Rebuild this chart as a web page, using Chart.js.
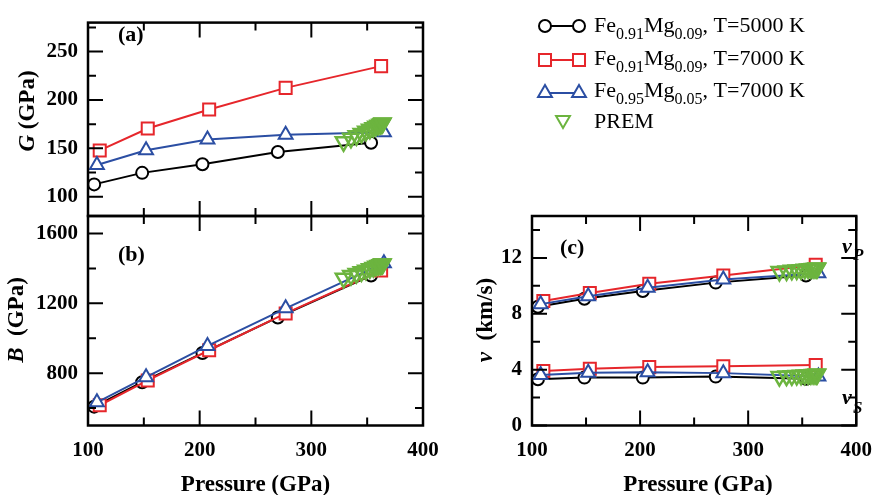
<!DOCTYPE html>
<html><head><meta charset="utf-8">
<script src="https://cdn.jsdelivr.net/npm/chart.js@4.4.0/dist/chart.umd.min.js"></script>
<style>
html,body{margin:0;padding:0;background:#fff;}
#wrap{position:relative;width:884px;height:495px;overflow:hidden;background:#fff;}
#wrap canvas{position:absolute;left:0;top:0;}
</style></head><body>
<div id="wrap">
<canvas id="ca" width="884" height="495"></canvas>
<canvas id="cb" width="884" height="495"></canvas>
<canvas id="cc" width="884" height="495"></canvas>
</div>
<script>
// ---------------- data ----------------
const pressureBlack = [105.5, 148.5, 202.5, 270, 353.5];   // Fe0.91Mg0.09, 5000 K
const pressureRed   = [110.5, 153.5, 208.5, 277, 362.5];   // Fe0.91Mg0.09, 7000 K
const pressureBlue  = [108, 152, 207, 277, 365];           // Fe0.95Mg0.05, 7000 K
const pressurePrem  = [328.9, 335.5, 340.4, 344.9, 348.9, 352.4, 355.5, 358.0, 360.1, 361.8, 363.0, 363.6, 363.9];

const gBlack = [112.7, 124.6, 133.5, 146.2, 155.7];
const gRed   = [147.8, 170.5, 190.1, 212.5, 235.0];
const gBlue  = [132.8, 148.0, 159.0, 164.0, 166.6];
const gPrem  = [156.7, 160.3, 163.0, 165.4, 167.6, 169.6, 171.3, 172.7, 173.9, 174.9, 175.5, 175.9, 176.1];

const bBlack = [608, 748, 915, 1119, 1359];
const bRed   = [616, 758, 931, 1142, 1388];
const bBlue  = [633, 777, 956, 1171, 1430];
const bPrem  = [1343.4, 1358.6, 1370.1, 1380.5, 1389.9, 1398.1, 1405.3, 1411.5, 1416.4, 1420.3, 1423.1, 1424.9, 1425.3];

const vpBlack = [8.50, 9.07, 9.63, 10.23, 10.74];
const vpRed   = [8.92, 9.49, 10.15, 10.74, 11.50];
const vpBlue  = [8.69, 9.26, 9.87, 10.46, 10.90];
const vpPrem  = [11.03, 11.07, 11.11, 11.14, 11.16, 11.19, 11.21, 11.22, 11.24, 11.25, 11.26, 11.26, 11.26];

const vsBlack = [3.31, 3.43, 3.43, 3.50, 3.35];
const vsRed   = [3.90, 4.06, 4.18, 4.25, 4.33];
const vsBlue  = [3.61, 3.78, 3.82, 3.75, 3.50];
const vsPrem  = [3.50, 3.54, 3.56, 3.58, 3.60, 3.61, 3.63, 3.64, 3.65, 3.66, 3.66, 3.67, 3.67];

// tick labels (major) and minor tick positions
const xTickLabels = [100, 200, 300, 400];
const xMinorTicks = [150, 250, 350];
const gTickLabels = [100, 150, 200, 250];
const gMinorTicks = [125, 175, 225, 275];
const bTickLabels = [800, 1200, 1600];
const bMinorTicks = [600, 1000, 1400];
const vTickLabels = [0, 4, 8, 12];
const vMinorTicks = [2, 6, 10, 14];

// ---------------- styling ----------------
const FAM = "'Liberation Serif', 'Times New Roman', Times, serif";
const BLACK = '#000000', RED = '#e6262b', BLUE = '#2b4ea3', GREEN = '#6cb43f';

function ds(xs, ys, color, style, radius, order, extra) {
  return Object.assign({
    data: xs.map((x, i) => ({x: x, y: ys[i]})),
    borderColor: color, backgroundColor: '#ffffff', borderWidth: 2,
    pointStyle: style, pointRadius: radius, pointHoverRadius: radius,
    pointBorderWidth: 2, pointBorderColor: color, pointBackgroundColor: '#ffffff',
    pointRotation: 0, showLine: true, tension: 0, order: order, clip: false
  }, extra || {});
}
function black(xs, ys) { return ds(xs, ys, BLACK, 'circle', 6, 3); }
function red(xs, ys)   { return ds(xs, ys, RED, 'rect', 8.5, 2); }
function blue(xs, ys)  { return ds(xs, ys, BLUE, 'triangle', 8, 1); }
function prem(xs, ys)  { return ds(xs, ys, GREEN, 'triangle', 9, 0, {showLine: false, pointRotation: 180, pointBorderWidth: 2.5, pointBackgroundColor: 'rgba(0,0,0,0)'}); }

function rich(ctx, x, y, parts, center) {
  let w = 0;
  parts.forEach(p => { ctx.font = p[1]; w += ctx.measureText(p[0]).width; });
  let cx = center ? x - w / 2 : x;
  parts.forEach(p => { ctx.font = p[1]; ctx.fillText(p[0], cx, y + (p[2] || 0)); cx += ctx.measureText(p[0]).width; });
}

function framePlugin(cfg) {
  return {
    id: 'frame',
    afterDraw(chart) {
      const ctx = chart.ctx, a = chart.chartArea, xs = chart.scales.x, ys = chart.scales.y;
      ctx.save();
      ctx.strokeStyle = '#000'; ctx.lineWidth = 2; ctx.beginPath();
      const seg = (x0, y0, x1, y1) => { ctx.moveTo(x0, y0); ctx.lineTo(x1, y1); };
      const MAJ = 15, MIN = 8;
      xTickLabels.forEach(v => { const p = xs.getPixelForValue(v); seg(p, a.bottom, p, a.bottom - MAJ); seg(p, a.top, p, a.top + MAJ); });
      xMinorTicks.forEach(v => { const p = xs.getPixelForValue(v); seg(p, a.bottom, p, a.bottom - MIN); seg(p, a.top, p, a.top + MIN); });
      cfg.yMajor.forEach(v => { const p = ys.getPixelForValue(v); seg(a.left, p, a.left + MAJ, p); seg(a.right, p, a.right - MAJ, p); });
      cfg.yMinor.forEach(v => { const p = ys.getPixelForValue(v); seg(a.left, p, a.left + MIN, p); seg(a.right, p, a.right - MIN, p); });
      ctx.stroke();
      ctx.lineWidth = 2.5;
      ctx.strokeRect(a.left, a.top, a.right - a.left, a.bottom - a.top);
      ctx.fillStyle = '#000';
      ctx.textBaseline = 'alphabetic'; ctx.textAlign = 'left';
      if (cfg.texts) cfg.texts(ctx, chart);
      ctx.restore();
    }
  };
}

function rotatedTitle(ctx, cx, cy, parts) {
  ctx.save();
  ctx.translate(cx, cy); ctx.rotate(-Math.PI / 2);
  ctx.textBaseline = 'middle';
  rich(ctx, 0, 0, parts, true);
  ctx.restore();
}

function makeChart(id, datasets, pad, yWidth, xHeight, yMin, yMax, yLabels, showX, frameCfg) {
  return new Chart(document.getElementById(id), {
    type: 'line',
    data: {datasets: datasets},
    options: {
      responsive: false, animation: false, devicePixelRatio: 1,
      layout: {padding: pad, autoPadding: false},
      plugins: {legend: {display: false}, tooltip: {enabled: false}, title: {display: false}},
      scales: {
        x: {
          type: 'linear', min: 100, max: 400,
          grid: {display: false, drawTicks: false}, border: {display: false},
          ticks: {display: showX, padding: 12, color: '#000', font: {family: FAM, size: 21, weight: 'bold'}, callback: v => String(v)},
          afterBuildTicks: s => { s.ticks = xTickLabels.map(v => ({value: v})); },
          afterFit: s => { s.height = xHeight; }
        },
        y: {
          type: 'linear', min: yMin, max: yMax,
          grid: {display: false, drawTicks: false}, border: {display: false},
          ticks: {padding: 10, color: '#000', font: {family: FAM, size: 21, weight: 'bold'}, callback: v => String(v)},
          afterBuildTicks: s => { s.ticks = yLabels.map(v => ({value: v})); },
          afterFit: s => { s.width = yWidth; }
        }
      }
    },
    plugins: [framePlugin(frameCfg)]
  });
}

const TB = 'bold 23px ' + FAM, TBI = 'italic bold 23px ' + FAM;

// Panel (a)
makeChart('ca',
  [black(pressureBlack, gBlack), red(pressureRed, gRed), blue(pressureBlue, gBlue), prem(pressurePrem, gPrem)],
  {left: 0, top: 7, right: 461, bottom: 0}, 88, 279, 80, 280, gTickLabels, false,
  {yMajor: gTickLabels, yMinor: gMinorTicks, texts: (ctx) => {
    rotatedTitle(ctx, 28, 111, [['G', TBI], [' (GPa)', TB]]);
    ctx.font = 'bold 22px ' + FAM; ctx.fillText('(a)', 118, 41);
  }});

// Panel (b)
makeChart('cb',
  [black(pressureBlack, bBlack), red(pressureRed, bRed), blue(pressureBlue, bBlue), prem(pressurePrem, bPrem)],
  {left: 0, top: 216, right: 461, bottom: 0}, 88, 69.5, 500, 1700, bTickLabels, true,
  {yMajor: bTickLabels, yMinor: bMinorTicks, texts: (ctx) => {
    rotatedTitle(ctx, 17, 320, [['B', TBI], ['  (GPa)', TB]]);
    ctx.font = 'bold 22px ' + FAM; ctx.fillText('(b)', 118, 261);
    ctx.textBaseline = 'middle';
    rich(ctx, 255.5, 485, [['Pressure (GPa)', TB]], true);
  }});

// Panel (c) + legend
const SUBF = '16px ' + FAM, MAINF = '22px ' + FAM;
const legendRows = [
  {color: BLACK, style: 'circle', r: 6, rot: 0, line: true, y: 26, base: 32, parts: [['Fe'], ['0.91', 1], ['Mg'], ['0.09', 1], [', T=5000 K']]},
  {color: RED, style: 'rect', r: 8.5, rot: 0, line: true, y: 60, base: 65, parts: [['Fe'], ['0.91', 1], ['Mg'], ['0.09', 1], [', T=7000 K']]},
  {color: BLUE, style: 'triangle', r: 8, rot: 0, line: true, y: 93, base: 97, parts: [['Fe'], ['0.95', 1], ['Mg'], ['0.05', 1], [', T=7000 K']]},
  {color: GREEN, style: 'triangle', r: 8, rot: 180, line: false, y: 120, base: 128, parts: [['PREM']]}
];

makeChart('cc',
  [black(pressureBlack, vpBlack), red(pressureRed, vpRed), blue(pressureBlue, vpBlue), prem(pressurePrem, vpPrem),
   black(pressureBlack, vsBlack), red(pressureRed, vsRed), blue(pressureBlue, vsBlue), prem(pressurePrem, vsPrem)],
  {left: 0, top: 216, right: 19, bottom: 0}, 532, 69.5, 0, 15, vTickLabels, true,
  {yMajor: vTickLabels, yMinor: vMinorTicks, texts: (ctx) => {
    rotatedTitle(ctx, 486, 320, [['v', TBI], ['  (km/s)', TB]]);
    ctx.font = 'bold 22px ' + FAM; ctx.fillText('(c)', 560, 254);
    ctx.font = 'italic bold 22px ' + FAM; ctx.fillText('v', 842, 253); ctx.fillText('v', 842, 404);
    ctx.font = 'italic bold 17px ' + FAM; ctx.fillText('P', 853, 260); ctx.fillText('S', 853, 413);
    ctx.save(); ctx.textBaseline = 'middle';
    rich(ctx, 698, 485, [['Pressure (GPa)', TB]], true);
    ctx.restore();
    // legend
    legendRows.forEach(row => {
      ctx.save();
      ctx.strokeStyle = row.color; ctx.lineWidth = 2;
      if (row.line) { ctx.beginPath(); ctx.moveTo(545, row.y); ctx.lineTo(579, row.y); ctx.stroke(); }
      ctx.fillStyle = row.line ? '#ffffff' : 'rgba(0,0,0,0)';
      const opt = {pointStyle: row.style, radius: row.r, rotation: row.rot, borderWidth: 2};
      if (row.line) {
        Chart.helpers.drawPoint(ctx, opt, 545, row.y);
        Chart.helpers.drawPoint(ctx, opt, 579, row.y);
      } else {
        Chart.helpers.drawPoint(ctx, opt, 563, row.y);
      }
      ctx.restore();
      ctx.fillStyle = '#000';
      rich(ctx, 594, row.base, row.parts.map(p => [p[0], p[1] ? SUBF : MAINF, p[1] ? 7 : 0]), false);
    });
  }});
</script>
</body></html>
